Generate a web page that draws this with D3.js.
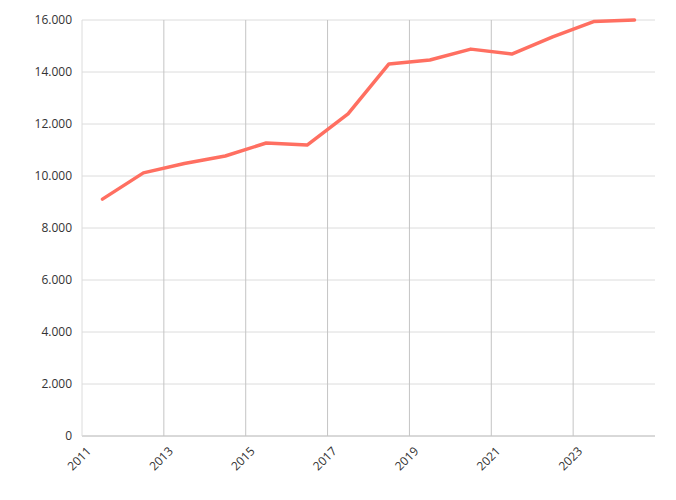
<!DOCTYPE html>
<html>
<head>
<meta charset="utf-8">
<script src="https://cdn.jsdelivr.net/npm/d3@7"></script>
<style>
  body { margin: 0; background: #fff; }
  text { font-family: "Open Sans", "Noto Sans", sans-serif; font-size: 12px; fill: #333; }
</style>
</head>
<body>
<div id="chart"></div>
<script>
// data (points sit mid-year)
const years = [2011.5, 2012.5, 2013.5, 2014.5, 2015.5, 2016.5, 2017.5, 2018.5, 2019.5, 2020.5, 2021.5, 2022.5, 2023.5, 2024.5];
const values = [9110, 10120, 10480, 10770, 11270, 11190, 12390, 14310, 14460, 14880, 14690, 15350, 15940, 16000];
const xTicks = [2011, 2013, 2015, 2017, 2019, 2021, 2023];
const yTicks = [0, 2000, 4000, 6000, 8000, 10000, 12000, 14000, 16000];

const margin = {top: 20, right: 21, bottom: 64, left: 82};
const width = 676 - margin.left - margin.right;
const height = 500 - margin.top - margin.bottom;

const svg = d3.select("#chart")
  .append("svg")
    .attr("width", 676)
    .attr("height", 500)
  .append("g")
    .attr("transform", `translate(${margin.left}, ${margin.top})`);

const x = d3.scaleLinear().domain([2011, 2025]).range([0, width]);
const y = d3.scaleLinear().domain([0, 16000]).range([height, 0]);

const fmt = d => d3.format(",")(d).replace(/,/g, ".");

// horizontal grid
svg.selectAll(".hgrid")
  .data(yTicks)
  .join("line")
    .attr("x1", 0).attr("x2", width)
    .attr("y1", d => y(d)).attr("y2", d => y(d))
    .style("stroke", "#dcdcdc");

// vertical grid
svg.selectAll(".vgrid")
  .data(xTicks.slice(1))
  .join("line")
    .attr("x1", d => x(d)).attr("x2", d => x(d))
    .attr("y1", 0).attr("y2", height)
    .style("stroke", "#c4c4c4");

// y labels
svg.selectAll(".ylab")
  .data(yTicks)
  .join("text")
    .attr("x", -10)
    .attr("y", d => y(d))
    .attr("dy", "0.35em")
    .attr("text-anchor", "end")
    .text(fmt);

// x axis line + ticks
svg.append("line")
  .attr("x1", 0).attr("x2", width)
  .attr("y1", height).attr("y2", height)
  .style("stroke", "#c4c4c4");
svg.append("line")
  .attr("x1", 0).attr("x2", 0)
  .attr("y1", 0).attr("y2", height)
  .style("stroke", "#dcdcdc");

svg.selectAll(".xlab")
  .data(xTicks)
  .join("text")
    .attr("text-anchor", "end")
    .attr("transform", d => `translate(${x(d) + 4}, ${height + 10}) rotate(-45)`)
    .attr("dy", "0.7em")
    .text(d => d);

// line
const line = d3.line()
  .x((d, i) => x(years[i]))
  .y(d => y(d));

svg.append("path")
  .datum(values)
  .attr("d", line)
  .style("fill", "none")
  .style("stroke", "#ff6f61")
  .style("stroke-width", 3.5)
  .style("stroke-linejoin", "round")
  .style("stroke-linecap", "round");
</script>
</body>
</html>
